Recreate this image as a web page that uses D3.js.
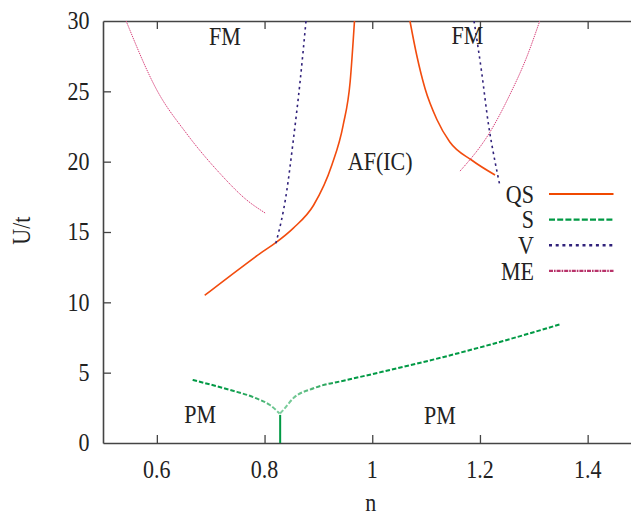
<!DOCTYPE html>
<html>
<head>
<meta charset="utf-8">
<script src="https://cdn.jsdelivr.net/npm/d3@7"></script>
<style>
  html, body { margin: 0; padding: 0; background: #fff; }
  svg { display: block; }
  text { font-family: "Liberation Serif", "Times New Roman", serif; fill: #222; }
</style>
</head>
<body>
<script>
// Tick values
const xTicks = [0.6, 0.8, 1.0, 1.2, 1.4];
const yTicks = [0, 5, 10, 15, 20, 25, 30];

// Phase boundaries, each point is [n, U/t]
const qsLeft  = [[0.689, 10.5], [0.754, 12.4], [0.792, 13.48], [0.819, 14.19], [0.853, 15.26],
                 [0.891, 16.9], [0.925, 19.76], [0.946, 22.6], [0.959, 25.7], [0.967, 30]];
const qsRight = [[1.070, 30], [1.0825, 27.58], [1.098, 25.2], [1.120, 23.0], [1.144, 21.4],
                 [1.185, 20.1], [1.228, 19.05]];
const sLeft   = [[0.6665, 4.48], [0.736, 3.77], [0.785, 3.17], [0.810, 2.70], [0.828, 2.1]];
const sRight  = [[0.829, 2.1], [0.835, 2.35], [0.853, 3.17], [0.891, 3.89], [0.953, 4.48],
                 [1.014, 5.02], [1.131, 6.1], [1.243, 7.25], [1.350, 8.45]];
const sStem   = [[0.829, 0], [0.829, 2.0]];
const vLeft   = [[0.821, 14.2], [0.841, 17.86], [0.853, 21.4], [0.866, 25.7], [0.877, 30]];
const vRight  = [[1.189, 30], [1.203, 26.4], [1.216, 22.6], [1.228, 20.0], [1.237, 18.3]];
const meLeft  = [[0.543, 30], [0.600, 25.09], [0.655, 22.01], [0.717, 19.17], [0.767, 17.27], [0.802, 16.33]];
const meRight = [[1.163, 19.33], [1.219, 22.13], [1.256, 24.8], [1.287, 27.45], [1.311, 30]];

// Region labels: [text, n, U/t]
const regionLabels = [["FM", 0.7265, 28.3], ["FM", 1.1765, 28.35], ["AF(IC)", 1.0147, 19.4],
                      ["PM", 0.6805, 1.4], ["PM", 1.1255, 1.33]];
const legendNames = ["QS", "S", "V", "ME"];

const W = 631, H = 515;
const x = d3.scaleLinear().domain([0.5, 1.5]).range([103, 641.5]);
const y = d3.scaleLinear().domain([0, 30]).range([443, 21]);

const FS = 22, SY = 1.13;   // font size and vertical stretch of the serif lettering

const svg = d3.select("body").append("svg").attr("width", W).attr("height", H);

function label(g, str, px, py, anchor, rot) {
  return g.append("text")
    .attr("transform", `translate(${px},${py})` + (rot ? ` rotate(${rot})` : "") + ` scale(1,${SY})`)
    .attr("text-anchor", anchor)
    .attr("font-size", FS)
    .text(str);
}

// Gradient: the S boundary thins out to a paler green around the cusp
const defs = svg.append("defs");
const grad = defs.append("linearGradient").attr("id", "sGrad")
  .attr("gradientUnits", "userSpaceOnUse")
  .attr("x1", x(0.72)).attr("x2", x(0.95)).attr("y1", 0).attr("y2", 0);
[[0, "#009944"], [0.3, "#3aae6a"], [0.48, "#80cfa0"], [0.62, "#6cc48e"], [0.85, "#2aa55c"], [1, "#009944"]]
  .forEach(([o, c]) => grad.append("stop").attr("offset", o).attr("stop-color", c));

// Axes: ticks point inward, mirrored on top
const axisStyle = g => {
  g.selectAll("text").remove();
  g.select(".domain").attr("stroke", "#444").attr("stroke-width", 1.6);
  g.selectAll(".tick line").attr("stroke", "#444").attr("stroke-width", 1.3);
};
svg.append("g").attr("transform", `translate(0,${y(0)})`)
  .call(d3.axisBottom(x).tickValues(xTicks).tickSizeInner(-8).tickSizeOuter(0)).call(axisStyle);
svg.append("g").attr("transform", `translate(0,${y(30)})`)
  .call(d3.axisTop(x).tickValues(xTicks).tickSizeInner(-8).tickSizeOuter(0)).call(axisStyle);
svg.append("g").attr("transform", `translate(${x(0.5)},0)`)
  .call(d3.axisLeft(y).tickValues(yTicks.slice(1, -1)).tickSizeInner(-8).tickSizeOuter(0)).call(axisStyle);

// Tick labels
const tl = svg.append("g");
xTicks.forEach(v => label(tl, String(v), x(v), 478, "middle"));
yTicks.forEach(v => label(tl, String(v), 89.5, y(v) + 8.3, "end"));

// Axis titles
label(svg, "n", x(0.997), 511, "middle");
label(svg, "U/t", 30, y(15.1), "middle", -90);

// Curves
const line = d3.line().x(d => x(d[0])).y(d => y(d[1])).curve(d3.curveMonotoneX);
const curves = svg.append("g").attr("fill", "none");

const styles = {
  QS: { stroke: "#f24c0e", width: 1.6, dash: null },
  S:  { stroke: "url(#sGrad)", width: 2.0, dash: "4.5,2" },
  V:  { stroke: "#30217a", width: 1.6, dash: "2.4,3.6" },
  ME: { stroke: "#d8407a", width: 1.0, dash: "1.4,0.9" }
};
const series = [["QS", qsLeft], ["QS", qsRight], ["S", sLeft], ["S", sRight],
                ["V", vLeft], ["V", vRight], ["ME", meLeft], ["ME", meRight]];
series.forEach(([name, pts]) => {
  const s = styles[name];
  curves.append("path").attr("d", line(pts))
    .attr("stroke", s.stroke).attr("stroke-width", s.width)
    .attr("stroke-dasharray", s.dash).attr("stroke-linecap", "butt");
});
curves.append("path").attr("d", d3.line().x(d => x(d[0])).y(d => y(d[1]))(sStem))
  .attr("stroke", "#009944").attr("stroke-width", 2);

// Region labels
const rl = svg.append("g");
regionLabels.forEach(([t, n, u]) => label(rl, t, x(n), y(u), "middle"));

// Legend
const legendStyles = {
  QS: { stroke: "#f04800", width: 2.2, dash: null },
  S:  { stroke: "#009944", width: 2.4, dash: "6,2.2" },
  V:  { stroke: "#30217a", width: 2.4, dash: "3,3.7" },
  ME: { stroke: "#b8336a", width: 2.2, dash: "4,1,1.6,1" }
};
const lg = svg.append("g");
legendNames.forEach((name, i) => {
  const ly = 194 + i * 25.6;
  const s = legendStyles[name];
  label(lg, name, 534, ly + 8.8, "end");
  lg.append("line").attr("x1", 549).attr("x2", 613.5).attr("y1", ly).attr("y2", ly)
    .attr("stroke", s.stroke).attr("stroke-width", s.width).attr("stroke-dasharray", s.dash);
});
</script>
</body>
</html>
